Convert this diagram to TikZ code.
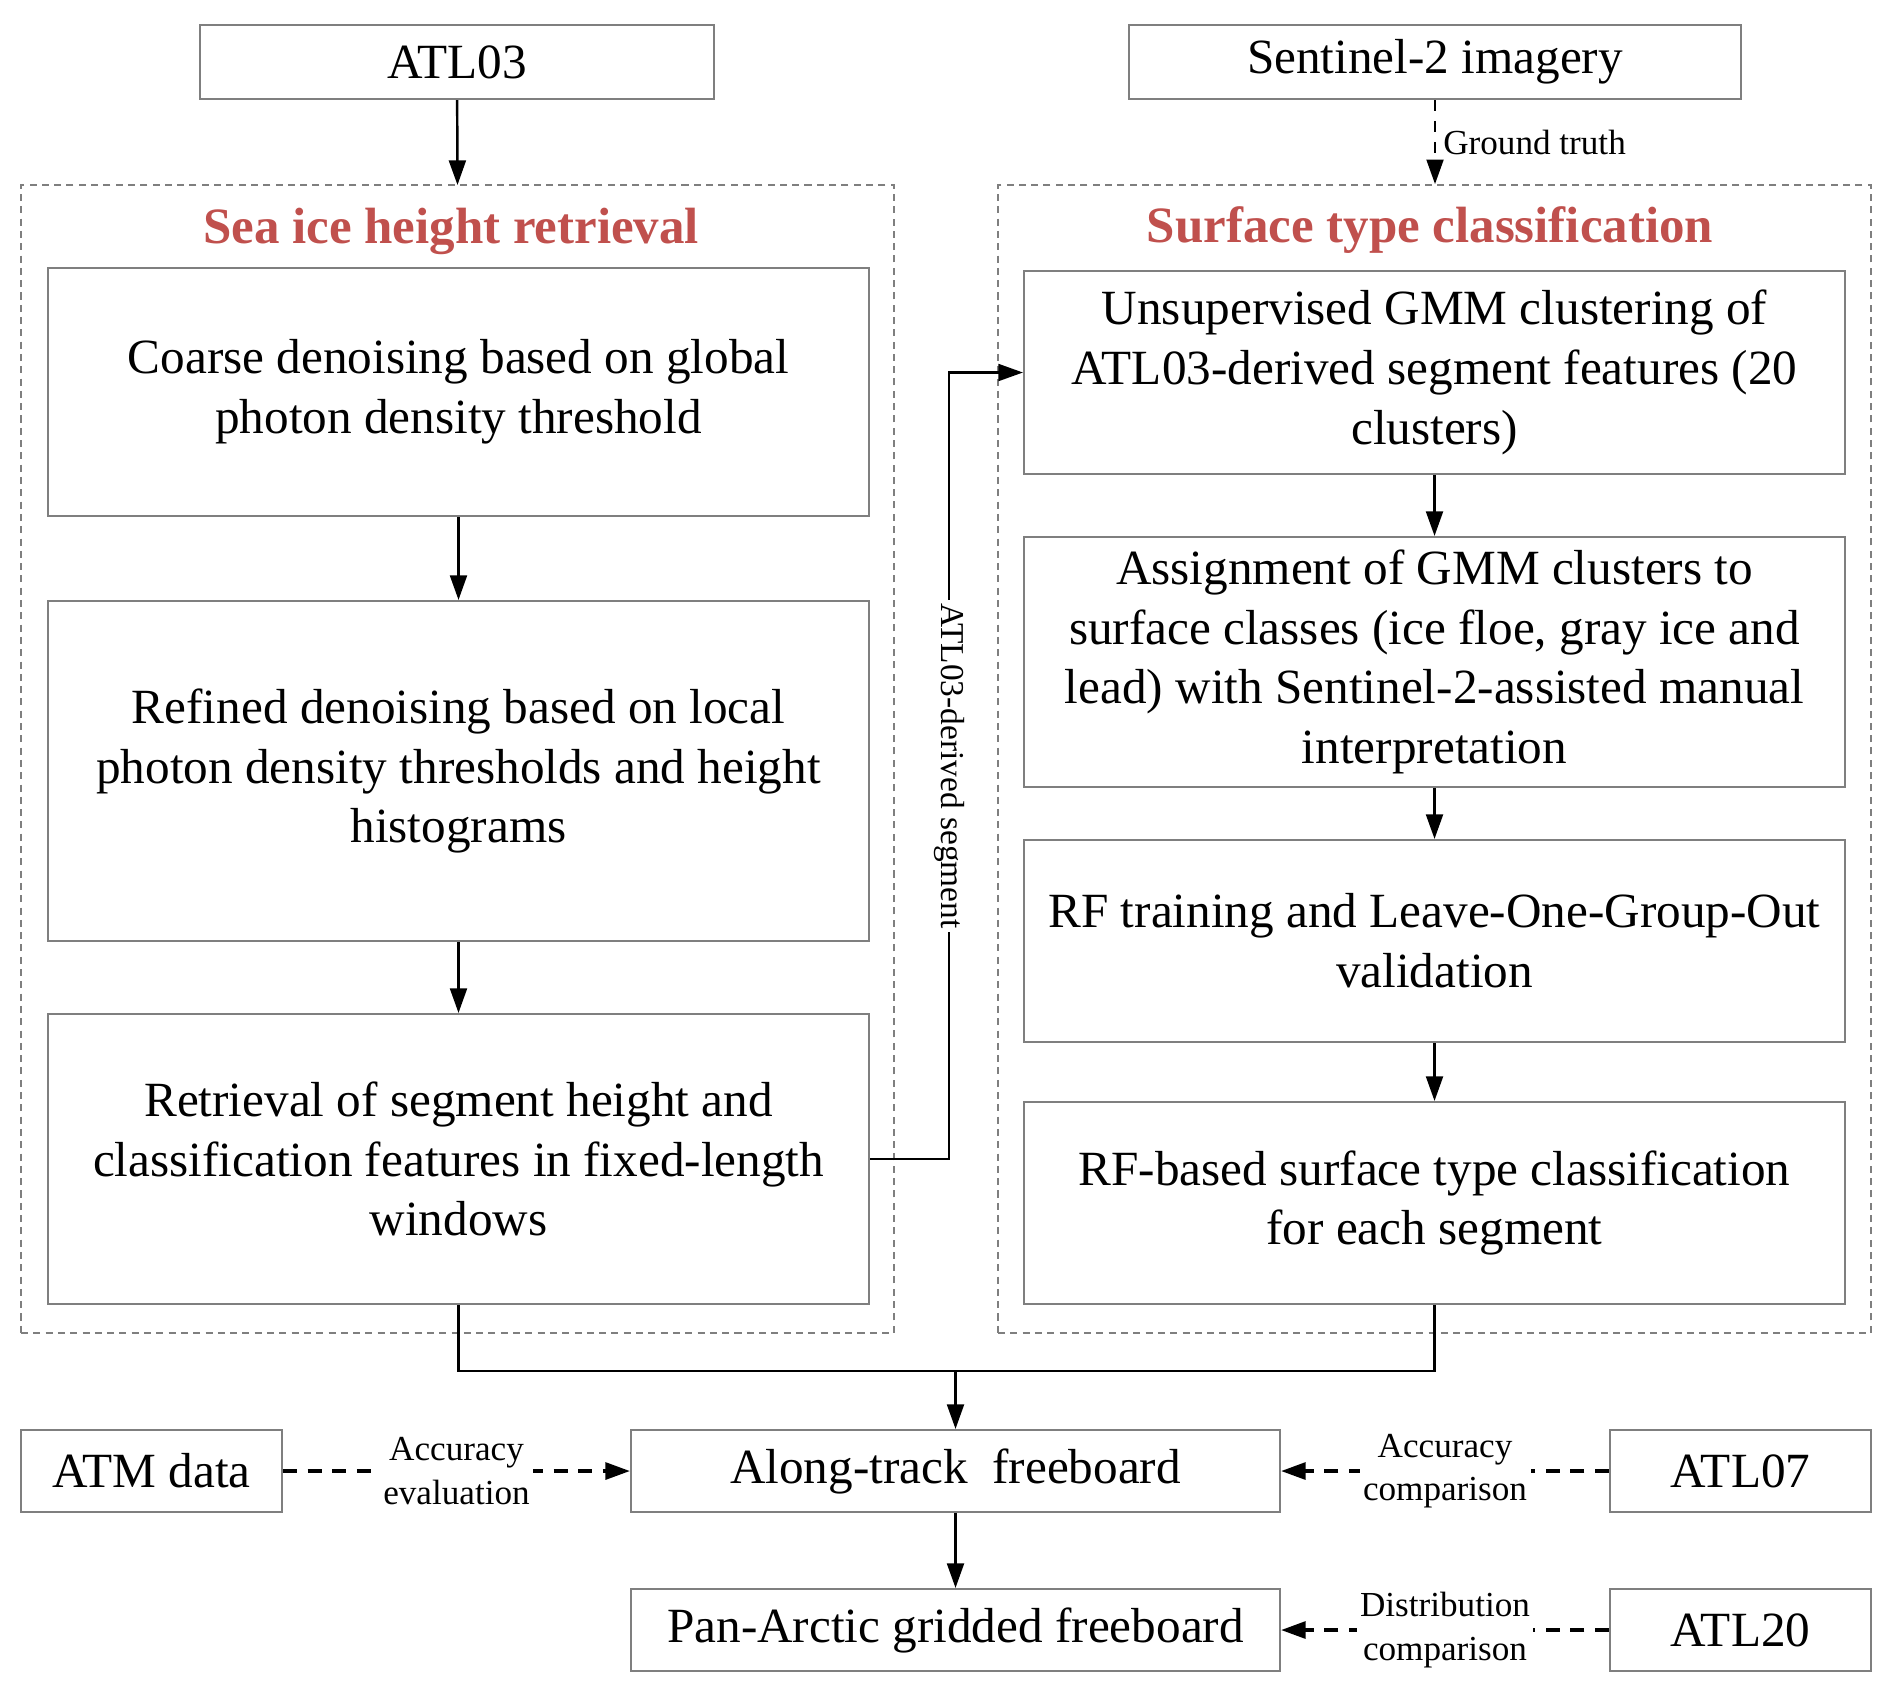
\documentclass[tikz,border=0pt]{standalone}
\usepackage{fontspec}
\setmainfont{Liberation Serif}
\usetikzlibrary{arrows.meta,calc}
\definecolor{titlered}{HTML}{C0504D}
\definecolor{boxgray}{HTML}{7F7F7F}

\begin{document}
\begin{tikzpicture}[>={Triangle[length=7pt,width=4.8pt]},
    every node/.style={font=\fontsize{14}{17}\selectfont},
    procbox/.style={draw=boxgray,line width=0.6pt,align=center,inner sep=0pt},
    groupbox/.style={draw=boxgray,dash pattern=on 2pt off 1.5pt,line width=0.5pt,inner sep=0pt},
    grouptitle/.style={text=titlered,font=\fontsize{14.5}{17}\selectfont\bfseries},
    smalllbl/.style={font=\fontsize{10}{12.3}\selectfont,align=center,fill=white,inner sep=1pt},
    flow/.style={->,line width=0.7pt},
    dashflow/.style={->,line width=1pt,dash pattern=on 4pt off 3pt}]
        \useasboundingbox (0,0) rectangle (18.92,-16.94);
        % data sources
        \node[procbox,minimum width=5.14cm,minimum height=0.74cm] (atl03) at (4.57,-0.62) {ATL03};
        \node[procbox,minimum width=6.12cm,minimum height=0.74cm] (s2) at (14.35,-0.62) {Sentinel-2 imagery};
        % the two groups
        \node[groupbox,minimum width=8.73cm,minimum height=11.48cm] (hgt) at (4.575,-7.59) {};
        \node[groupbox,minimum width=8.73cm,minimum height=11.48cm] (cls) at (14.345,-7.59) {};
        \node[grouptitle] (hgttitle) at (4.51,-2.31) {Sea ice height retrieval};
        \node[grouptitle] (clstitle) at (14.30,-2.30) {Surface type classification};
        % height retrieval steps
        \node[procbox,minimum width=8.21cm,minimum height=2.48cm] (coarse) at (4.585,-3.92)
            {Coarse denoising based on global\\photon density threshold};
        \node[procbox,minimum width=8.21cm,minimum height=3.40cm] (refine) at (4.585,-7.71)
            {Refined denoising based on local\\photon density thresholds and height\\histograms};
        \node[procbox,minimum width=8.21cm,minimum height=2.90cm] (segh) at (4.585,-11.59)
            {Retrieval of segment height and\\classification features in fixed-length\\windows};
        % classification steps
        \node[procbox,minimum width=8.21cm,minimum height=2.03cm] (gmm) at (14.345,-3.725)
            {Unsupervised GMM clustering of\\ATL03-derived segment features (20\\clusters)};
        \node[procbox,minimum width=8.21cm,minimum height=2.50cm] (assign) at (14.345,-6.62)
            {Assignment of GMM clusters to\\surface classes (ice floe, gray ice and\\lead) with Sentinel-2-assisted manual\\interpretation};
        \node[procbox,minimum width=8.21cm,minimum height=2.02cm] (rftrain) at (14.345,-9.41)
            {RF training and Leave-One-Group-Out\\validation};
        \node[procbox,minimum width=8.21cm,minimum height=2.02cm] (rfcls) at (14.345,-12.03)
            {RF-based surface type classification\\for each segment};
        % freeboard products
        \node[procbox,minimum width=2.61cm,minimum height=0.82cm] (atm) at (1.515,-14.71) {ATM data};
        \node[procbox,minimum width=6.49cm,minimum height=0.82cm] (along) at (9.555,-14.71) {Along-track~ freeboard};
        \node[procbox,minimum width=2.61cm,minimum height=0.82cm] (atl07) at (17.405,-14.71) {ATL07};
        \node[procbox,minimum width=6.49cm,minimum height=0.82cm] (pan) at (9.555,-16.30) {Pan-Arctic gridded freeboard};
        \node[procbox,minimum width=2.61cm,minimum height=0.82cm] (atl20) at (17.405,-16.30) {ATL20};
        \coordinate (merge) at ($(along.north)+(0,0.58)$);

        \draw[flow] (atl03) -- (hgt.north |- atl03.south |- 0,-1.85);
        \draw[->,line width=0.7pt,dash pattern=on 3pt off 3pt] (s2.south) -- node[right=1pt,smalllbl,fill=none] {Ground truth} (cls.north -| s2.south);
        \draw[flow] (coarse) -- (refine);
        \draw[flow] (refine) -- (segh);
        \draw[flow] (segh.east) -- ++(0.79,0) |- node[pos=0.25,rotate=-90,smalllbl,font=\fontsize{9.5}{11}\selectfont] {ATL03-derived segment} (gmm.west);
        \draw[flow] (gmm) -- (assign);
        \draw[flow] (assign) -- (rftrain);
        \draw[flow] (rftrain) -- (rfcls);
        \draw[line width=0.7pt] (segh.south) |- (merge) -| (rfcls.south);
        \draw[flow] (merge) -- (along);
        \draw[flow] (along) -- (pan);
        \draw[dashflow] (atm) -- node[smalllbl] {Accuracy\\evaluation} (along);
        \draw[dashflow] (atl07) -- node[smalllbl] {Accuracy\\comparison} (along);
        \draw[dashflow] (atl20) -- node[smalllbl] {Distribution\\comparison} (pan);
      \end{tikzpicture}
\end{document}
